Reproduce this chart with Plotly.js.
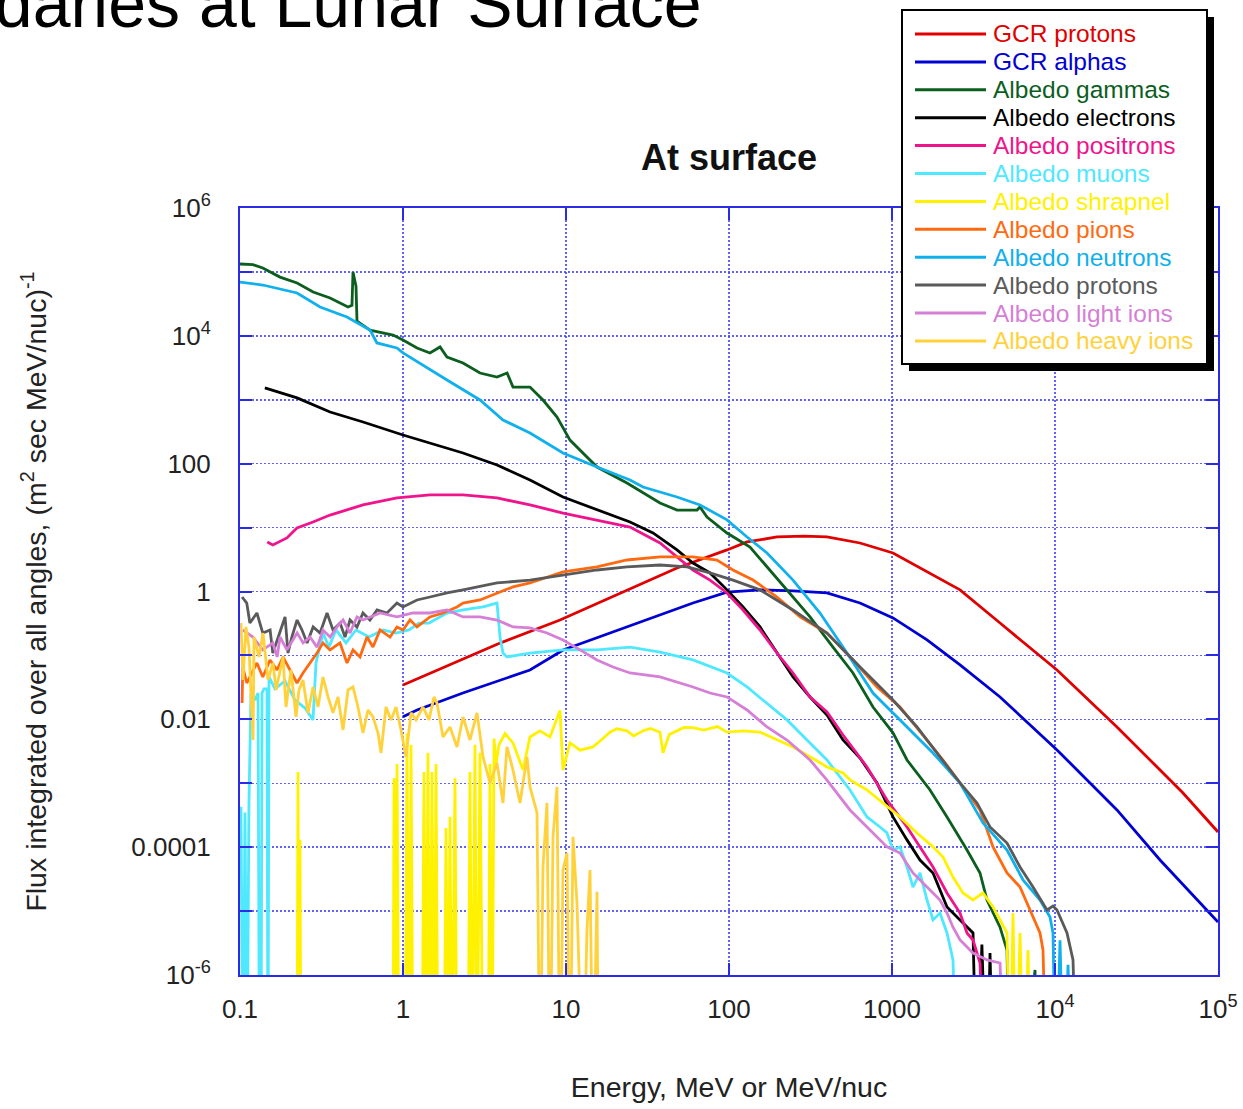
<!DOCTYPE html>
<html>
<head>
<meta charset="utf-8">
<script src="https://cdn.plot.ly/plotly-3.0.1.min.js"></script>
<style>body{margin:0;background:#fff}</style>
</head>
<body>
<div id="chart" style="width:1243px;height:1109px"></div>
<script>
// Series names and colours (legend order = drawing order)
const seriesNames = ['GCR protons','GCR alphas','Albedo gammas','Albedo electrons','Albedo positrons','Albedo muons','Albedo shrapnel','Albedo pions','Albedo neutrons','Albedo protons','Albedo light ions','Albedo heavy ions'];
const seriesColors = ['#e00000','#0000d2','#0b5e1e','#000000','#f0148c','#4ee8ff','#fff200','#ff6a10','#10b0ec','#5a5a5a','#d67fd6','#ffd23c'];

// [energy (MeV or MeV/nuc), flux (m^2 sec MeV/nuc)^-1]; 1e-8 marks empty bins (below the axis)
const gcrProtons = [[1.0,0.0344],[1.94,0.072],[3.94,0.156],[9.19,0.358],[23.7,1.06],[48.0,2.33],[97.2,4.47],[129,5.96],[197,7.13],[290,7.35],[399,7.13],[636,5.74],[1014,4.01],[1640,2.02],[2614,1.06],[4600,0.321],[10290,0.0591],[24000,0.00759],[61000,7.05e-4],[100000,1.73e-4]];

const gcrAlphas = [[1.0,0.011],[1.22,0.014],[2.33,0.0258],[6.01,0.0591],[9.6,0.1216],[23.7,0.279],[60.1,0.661],[97.2,0.98],[155,1.06],[247,1.02],[399,0.95],[636,0.66],[1014,0.386],[1640,0.175],[2614,0.071],[4600,0.0224],[10290,0.00332],[24000,3.82e-4],[44100,6.3e-5],[100000,6.76e-6]];

const albedoGammas = [[0.1,1.33e5],[0.12,1.3e5],[0.138,1.15e5],[0.176,8.3e4],[0.224,6.7e4],[0.281,4.85e4],[0.357,3.91e4],[0.460,2.83e4],[0.4864,3.0e4],[0.4934,1.0e5],[0.5148,6.0e4],[0.5221,1.7e4],[0.6273,1.23e4],[0.869,1.03e4],[1.0,8.6e3],[1.219,6.46e3],[1.464,5.4e3],[1.687,6.7e3],[1.862,4.67e3],[2.334,3.76e3],[2.968,2.62e3],[3.774,2.27e3],[4.35,2.62e3],[4.73,1.58e3],[6.013,1.58e3],[7.226,991],[8.806,537],[10.58,234],[15.50,88.7],[23.67,49.9],[37.74,24.3],[47.97,18.8],[63.64,18.8],[66.40,21],[73.29,14.6],[97.21,8.23],[134.5,4.97],[171.1,2.42],[226.9,1.06],[314.0,0.40],[434.5,0.135],[576.4,0.0531],[764.5,0.0156],[1014,0.00614],[1236,0.00231],[1711,7.85e-4],[2175,2.97e-4],[2885,9.04e-5],[3467,3.95e-5],[3826,1.49e-5],[4600,5.6e-6],[5077,2.45e-6],[5296,1e-8],[5525,3e-6],[5765,1e-8],[6100,1.5e-6],[6250,1e-8],[7541,1.2e-6],[7800,1e-8]];

const albedoElectrons = [[0.142,1.53e3],[0.224,1.07e3],[0.357,644],[0.569,449],[1.0,281],[1.464,211],[2.334,147],[3.774,95.3],[6.013,55.6],[9.585,30.1],[15.50,18.8],[24.70,12.2],[34.18,8.24],[47.97,4.47],[60.13,2.79],[76.46,1.95],[97.21,1.06],[121.9,0.573],[155.0,0.279],[197.0,0.109],[247.0,0.046],[314.0,0.0224],[399.2,0.0117],[500.6,0.00475],[636.4,0.00248],[809.1,0.00101],[1014,2.97e-4],[1236,1.3e-4],[1485,6.3e-5],[1785,3.95e-5],[2175,1.16e-5],[2614,7.26e-6],[3141,4.55e-6],[3323,1e-8],[3560,3e-6],[3826,1e-8],[3993,2.2e-6],[4200,1e-8]];

const albedoPositrons = [[0.147,5.96],[0.159,5.35],[0.194,6.88],[0.2237,9.86],[0.2805,12.2],[0.3566,15.7],[0.5682,22.6],[0.9189,29.1],[1.464,32.4],[2.334,32.4],[3.774,29.1],[6.013,22.6],[9.585,16.9],[15.50,13.2],[24.70,10.2],[37.74,5.74],[47.97,3.47],[60.13,2.17],[76.46,1.51],[97.21,0.95],[121.9,0.514],[155.0,0.25],[197.0,0.109],[247.0,0.0531],[314.0,0.0224],[399.2,0.013],[500.6,0.00569],[702.6,0.0018],[931.8,5.47e-4],[1236,2.07e-4],[1485,1.01e-4],[1785,4.9e-5],[2175,1.92e-5],[2614,9.33e-6],[2885,4.55e-6],[3141,3.53e-6],[3467,1.54e-6],[3721,1e-8]];

const albedoMuons = [[0.1014,4.3e-4],[0.1043,1e-8],[0.1073,3.5e-4],[0.1104,1e-8],[0.1135,5e-4],[0.1168,0.0258],[0.1236,0.02],[0.1290,0.0258],[0.1317,1e-8],[0.1345,1e-8],[0.1365,0.0258],[0.1404,0.03],[0.1464,0.03],[0.1485,1e-8],[0.1506,0.046],[0.1639,0.03],[0.1888,0.04],[0.2175,0.02],[0.2505,0.015],[0.2805,0.0098],[0.2926,0.0762],[0.3230,0.224],[0.3516,0.135],[0.3882,0.25],[0.4470,0.157],[0.5148,0.25],[0.6185,0.194],[0.7540,0.25],[0.9059,0.224],[1.088,0.25],[1.254,0.321],[1.444,0.321],[1.862,0.461],[2.334,0.514],[3.097,0.573],[3.774,0.66],[3.937,0.194],[4.107,0.109],[4.345,0.0946],[6.013,0.109],[9.585,0.122],[15.50,0.122],[24.70,0.135],[37.74,0.113],[60.13,0.0849],[97.21,0.0531],[129.0,0.0321],[171.1,0.018],[226.9,0.0098],[301.0,0.00475],[399.2,0.00231],[552.5,7.85e-4],[702.6,2.97e-4],[844.1,2.07e-4],[931.8,1.67e-4],[1014,9.04e-5],[1120,1.01e-4],[1236,4.9e-5],[1345,2.38e-5],[1485,3.95e-5],[1640,1.49e-5],[1785,7.26e-6],[1970,9.33e-6],[2175,4.55e-6],[2367,1.72e-6],[2505,1e-8]];

const albedoShrapnel = [[0.2237,1e-8],[0.2269,0.0015],[0.2301,1e-8],[0.2334,1.3e-4],[0.2367,1e-8],[0.8685,1e-8],[0.8807,0.0012],[0.9059,1e-8],[0.9189,0.002],[0.9452,1e-8],[1.029,1e-8],[1.058,0.006],[1.088,1e-8],[1.120,0.004],[1.152,1e-8],[1.308,1e-8],[1.345,0.0015],[1.384,1e-8],[1.423,0.003],[1.464,1e-8],[1.506,0.0015],[1.549,1e-8],[1.594,0.002],[1.640,1e-8],[1.785,1e-8],[1.836,2e-4],[1.888,1e-8],[1.942,3e-4],[1.998,1e-8],[2.084,0.0012],[2.144,1e-8],[2.505,1e-8],[2.576,0.0015],[2.650,1e-8],[2.765,0.004],[2.844,1e-8],[2.968,0.003],[3.097,1e-8],[3.323,1e-8],[3.418,0.002],[3.516,1e-8],[3.617,0.005],[3.721,0.002],[3.882,0.004],[4.225,0.006],[4.730,0.00427],[5.447,0.00162],[6.013,0.0053],[6.926,0.0066],[7.976,0.0053],[9.188,0.0137],[9.585,0.0016],[10.58,0.0043],[12.19,0.0033],[14.64,0.0037],[16.5,0.0048],[18.62,0.0063],[20.5,0.0071],[23.67,0.0066],[26.0,0.0055],[29.68,0.0066],[33.0,0.0072],[37.74,0.0063],[39.37,0.003],[43.0,0.0058],[47.97,0.0066],[53.0,0.0075],[60.13,0.0074],[70.0,0.0068],[85.0,0.0077],[97.21,0.0063],[121.9,0.0066],[155.0,0.0063],[197.0,0.0048],[247.0,0.0037],[314.0,0.0026],[399.2,0.0018],[500.6,0.00145],[552.5,0.00113],[702.6,7.85e-4],[931.8,4.3e-4],[1120,2.97e-4],[1424,1.67e-4],[1785,1.01e-4],[2056,7.0e-5],[2367,3.4e-5],[2727,1.92e-5],[3141,1.49e-5],[3617,1.92e-5],[4166,1.16e-5],[4600,7.26e-6],[5077,4.55e-6],[5296,1e-8],[5525,9.3e-6],[5765,1e-8],[6100,4.55e-6],[6454,1e-8],[6830,2.45e-6],[7126,1e-8]];

const albedoPions = [[0.103,0.018],[0.104,0.0659],[0.110,0.037],[0.127,0.0762],[0.138,0.046],[0.1528,0.0849],[0.1687,0.0591],[0.1836,0.0946],[0.2026,0.0591],[0.2237,0.037],[0.2435,0.0531],[0.2688,0.0762],[0.2968,0.109],[0.3230,0.157],[0.3566,0.122],[0.4107,0.157],[0.4534,0.0762],[0.4934,0.122],[0.5446,0.0946],[0.6013,0.194],[0.6546,0.135],[0.7228,0.25],[0.8323,0.194],[0.9189,0.279],[1.0,0.25],[1.104,0.358],[1.219,0.279],[1.464,0.4],[1.760,0.461],[2.144,0.573],[2.334,0.66],[2.968,0.737],[3.774,0.95],[4.730,1.18],[6.013,1.36],[7.645,1.69],[9.585,2.02],[15.50,2.42],[23.67,3.11],[37.74,3.47],[60.13,3.47],[84.42,3.11],[105.8,2.17],[140.4,1.51],[197.0,0.82],[272.7,0.4],[399.2,0.224],[576.4,0.0849],[809.1,0.0321],[1120,0.0156],[1640,0.00475],[2056,0.00231],[2614,0.00101],[3467,3.82e-4],[4166,1.01e-4],[5077,3.95e-5],[6100,2.38e-5],[7328,8.09e-6],[8091,4.55e-6],[8443,2.45e-6],[8932,1e-8]];

const albedoNeutrons = [[0.1,6.95e4],[0.138,6.24e4],[0.224,4.68e4],[0.31,2.83e4],[0.453,1.97e4],[0.628,1.23e4],[0.692,7.73e3],[0.918,6.46e3],[1.0,5.4e3],[1.464,2.93e3],[1.862,2.04e3],[2.968,991],[4.107,482],[6.013,302],[9.585,147],[15.50,88.7],[24.70,55.6],[29.68,43.2],[47.97,30.1],[66.40,22.6],[97.21,13.2],[129.0,7.13],[171.1,4.01],[247.0,1.51],[361.7,0.461],[529.6,0.109],[764.5,0.0258],[1120,0.00977],[1785,0.00298],[2614,0.00101],[3617,2.39e-4],[5077,9.04e-5],[6364,3.07e-5],[8091,1.49e-5],[9318,8.09e-6],[9721,4.55e-6],[10141,1e-8],[10732,3.5e-6],[11355,1e-8],[12018,1.44e-6],[12897,1e-8]];

const albedoProtons = [[0.103,0.82],[0.110,0.66],[0.115,0.321],[0.127,0.461],[0.138,0.224],[0.153,0.25],[0.159,0.109],[0.176,0.224],[0.189,0.4],[0.197,0.109],[0.208,0.194],[0.224,0.358],[0.240,0.25],[0.258,0.157],[0.281,0.279],[0.310,0.224],[0.342,0.461],[0.372,0.25],[0.411,0.321],[0.441,0.194],[0.473,0.358],[0.522,0.279],[0.568,0.461],[0.627,0.358],[0.693,0.514],[0.798,0.461],[0.918,0.66],[1.0,0.573],[1.219,0.737],[1.464,0.82],[1.862,0.95],[2.334,1.06],[3.774,1.36],[6.013,1.51],[9.585,1.81],[15.50,2.17],[23.67,2.42],[37.74,2.6],[55.26,2.42],[76.46,1.95],[105.8,1.51],[155.0,1.06],[247.0,0.514],[399.2,0.224],[636.4,0.0659],[1014,0.0201],[1424,0.0076],[1970,0.00258],[2614,0.00101],[3323,4.92e-4],[3993,2.07e-4],[5077,1.16e-4],[6100,4.9e-5],[7328,2.38e-5],[8932,1.04e-5],[9721,1.2e-5],[10287,1.04e-5],[11848,4.55e-6],[12897,1.72e-6],[13646,1e-8]];

const albedoLightIons = [[0.104,0.25],[0.120,0.194],[0.138,0.122],[0.159,0.157],[0.169,0.0946],[0.176,0.194],[0.194,0.122],[0.224,0.224],[0.244,0.157],[0.269,0.194],[0.297,0.135],[0.323,0.25],[0.357,0.194],[0.394,0.279],[0.429,0.358],[0.473,0.224],[0.522,0.4],[0.568,0.358],[0.723,0.461],[0.918,0.4],[1.152,0.461],[1.464,0.461],[1.862,0.514],[2.334,0.4],[2.968,0.4],[3.774,0.358],[4.730,0.279],[6.013,0.27],[7.645,0.224],[9.585,0.174],[12.19,0.122],[15.50,0.0849],[19.43,0.0659],[24.70,0.0531],[37.74,0.046],[60.13,0.0321],[76.46,0.0258],[97.21,0.0224],[129.0,0.014],[171.1,0.0076],[226.9,0.00475],[314.0,0.00231],[399.2,0.00112],[552.5,3.82e-4],[702.6,2.07e-4],[931.8,1.01e-4],[1120,8.1e-5],[1345,3.95e-5],[1640,2.38e-5],[1970,1.49e-5],[2175,9.33e-6],[2367,5.6e-6],[2614,3.53e-6],[3141,2.2e-6],[3826,1.72e-6],[4600,1.54e-6],[4935,1e-8]];

const albedoHeavyIons = [[0.1014,0.321],[0.1043,0.0413],[0.1088,0.279],[0.1135,0.135],[0.1202,0.00475],[0.1219,0.194],[0.1308,0.0946],[0.1384,0.224],[0.1485,0.0413],[0.1594,0.0762],[0.1663,0.0288],[0.1836,0.0946],[0.1915,0.0156],[0.2055,0.0591],[0.2206,0.0109],[0.2301,0.0288],[0.2435,0.0413],[0.2613,0.0126],[0.2805,0.0321],[0.3010,0.0156],[0.3230,0.046],[0.3467,0.0224],[0.3721,0.0126],[0.3993,0.0224],[0.4285,0.00682],[0.4599,0.0288],[0.4934,0.0321],[0.5295,0.0156],[0.5682,0.00612],[0.6098,0.014],[0.6546,0.0109],[0.7025,0.00612],[0.7329,0.00298],[0.7865,0.0156],[0.8441,0.0098],[0.9059,0.0156],[0.9721,0.00682],[1.043,0.00258],[1.120,0.0126],[1.202,0.0098],[1.326,0.0156],[1.444,0.0098],[1.549,0.0224],[1.616,0.018],[1.760,0.0053],[1.942,0.0076],[2.144,0.0037],[2.334,0.0109],[2.576,0.00475],[2.844,0.0126],[3.097,0.00258],[3.418,0.00101],[3.774,0.00207],[4.107,4.92e-4],[4.345,0.0037],[4.730,0.00161],[5.222,4.92e-4],[5.765,0.00258],[6.013,8.75e-4],[6.640,3.43e-4],[6.926,1e-8],[7.226,5e-5],[7.645,4.92e-4],[7.976,1e-8],[8.323,1.45e-4],[8.806,8.75e-4],[9.188,1e-8],[9.585,4.4e-5],[10.14,8.1e-5],[10.58,1e-8],[11.04,1.45e-4],[11.68,1.34e-5],[12.72,1e-8],[13.45,5.07e-6],[14.04,4.4e-5],[14.64,1e-8],[15.50,2e-5],[15.8,1e-8]];

const seriesData = [gcrProtons, gcrAlphas, albedoGammas, albedoElectrons, albedoPositrons, albedoMuons, albedoShrapnel, albedoPions, albedoNeutrons, albedoProtons, albedoLightIons, albedoHeavyIons];

// Axis ticks: labelled decades plus unlabelled in-between decades
const xTickVals = [0.1, 1, 10, 100, 1000, 1e4, 1e5];
const xTickText = ['0.1', '1', '10', '100', '1000', '10<sup>4</sup>', '10<sup>5</sup>'];
const yTickVals = [1e-6, 1e-4, 1e-2, 1, 100, 1e4, 1e6];
const yTickText = ['10<sup>-6</sup>', '0.0001', '0.01', '1', '100', '10<sup>4</sup>', '10<sup>6</sup>'];
const yMinorVals = [1e-5, 1e-3, 1e-1, 10, 1e3, 1e5];

// Page geometry (pixels)
const W = 1243, H = 1109;
const plotL = 240, plotR = 1218, plotT = 208, plotB = 975;
const px2x = p => (p - plotL) / (plotR - plotL);
const px2y = p => (plotB - p) / (plotB - plotT);

const FONT = 'Liberation Sans, Arial, Helvetica, sans-serif';
const axisBlue = '#2b2be6';
const gridBlue = 'rgba(70,70,245,0.85)';

const traces = seriesData.map((d, i) => ({
  type: 'scatter',
  mode: 'lines',
  name: seriesNames[i],
  x: d.map(p => p[0]),
  y: d.map(p => p[1]),
  line: { color: seriesColors[i], width: 2.8 },
  showlegend: false,
  hoverinfo: 'skip'
}));

// Boxed legend with drop shadow, built from the series names/colours
const legL = 902, legR = 1207, legT = 10, legB = 364, shadow = 7;
const rowY0 = 34, rowStep = 27.9;
const shapes = [
  { type: 'rect', xref: 'paper', yref: 'paper', layer: 'above',
    x0: px2x(legL + shadow), x1: px2x(legR + shadow), y0: px2y(legB + shadow), y1: px2y(legT + shadow),
    fillcolor: '#000', line: { width: 0 } },
  { type: 'rect', xref: 'paper', yref: 'paper', layer: 'above',
    x0: px2x(legL), x1: px2x(legR), y0: px2y(legB), y1: px2y(legT),
    fillcolor: '#fff', line: { color: '#000', width: 2 } }
];
const annotations = [];
seriesNames.forEach((name, i) => {
  const yy = rowY0 + i * rowStep;
  shapes.push({ type: 'line', xref: 'paper', yref: 'paper', layer: 'above',
    x0: px2x(915), x1: px2x(986), y0: px2y(yy), y1: px2y(yy),
    line: { color: seriesColors[i], width: 3 } });
  annotations.push({ xref: 'paper', yref: 'paper', x: px2x(991), y: px2y(yy),
    xanchor: 'left', yanchor: 'middle', showarrow: false, text: name,
    font: { family: FONT, size: 24.5, color: seriesColors[i] } });
});

// Large page heading running off the top edge
annotations.push({ xref: 'paper', yref: 'paper', x: px2x(704), y: px2y(43),
  xanchor: 'right', yanchor: 'bottom', showarrow: false,
  text: 'Boundaries at Lunar Surface',
  font: { family: FONT, size: 68, color: '#000' } });

const tickStyle = { ticks: 'inside', ticklen: 12, tickwidth: 2, tickcolor: axisBlue };
const gridStyle = { showgrid: true, gridcolor: gridBlue, gridwidth: 1.5, griddash: '2px,2px' };

const layout = {
  width: W, height: H,
  margin: { l: plotL, r: W - plotR, t: plotT, b: H - plotB },
  paper_bgcolor: '#fff', plot_bgcolor: '#fff',
  showlegend: false,
  title: { text: '<b>At surface</b>', font: { family: FONT, size: 36, color: '#111' },
    xref: 'paper', x: 0.5, xanchor: 'center', yref: 'container', y: 1 - 157 / H, yanchor: 'middle' },
  xaxis: Object.assign({
    type: 'log', range: [-1, 5],
    tickmode: 'array', tickvals: xTickVals, ticktext: xTickText,
    showline: true, linecolor: axisBlue, linewidth: 2, mirror: 'ticks',
    zeroline: false, ticklabelstandoff: 10,
    tickfont: { family: FONT, size: 26, color: '#222' },
    title: { text: 'Energy, MeV or MeV/nuc', font: { family: FONT, size: 28.5, color: '#222' }, standoff: 54 }
  }, tickStyle, gridStyle),
  yaxis: Object.assign({
    type: 'log', range: [-6, 6],
    tickmode: 'array', tickvals: yTickVals, ticktext: yTickText,
    showline: true, linecolor: axisBlue, linewidth: 2, mirror: 'ticks',
    zeroline: false, ticklabelstandoff: 22,
    tickfont: { family: FONT, size: 26, color: '#222' },
    minor: Object.assign({ tickmode: 'array', tickvals: yMinorVals }, tickStyle, gridStyle),
    title: { text: 'Flux integrated over all angles, (m<sup>2</sup> sec MeV/nuc)<sup>-1</sup>',
      font: { family: FONT, size: 28.5, color: '#222' }, standoff: 76 }
  }, tickStyle, gridStyle),
  shapes: shapes,
  annotations: annotations
};

Plotly.newPlot('chart', traces, layout, { displayModeBar: false, staticPlot: true });
</script>
</body>
</html>
